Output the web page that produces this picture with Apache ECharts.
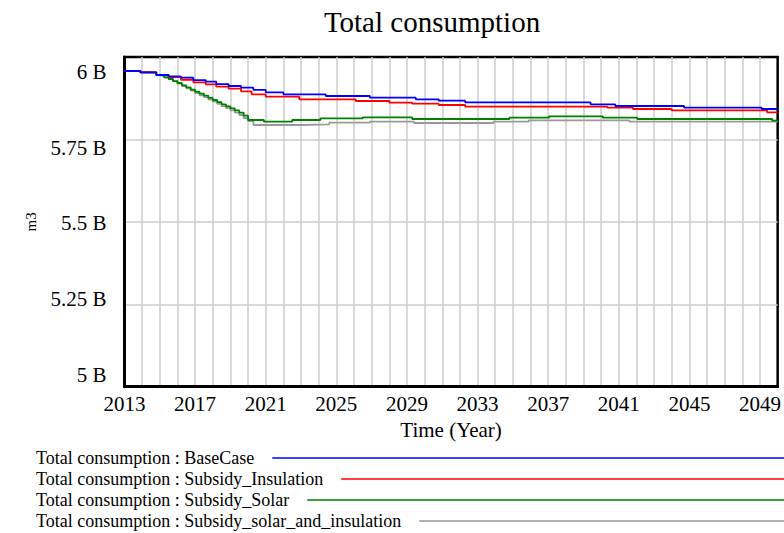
<!DOCTYPE html>
<html>
<head>
<meta charset="utf-8">
<script src="https://cdn.jsdelivr.net/npm/echarts@6/dist/echarts.min.js"></script>
<style>
html,body{margin:0;padding:0;background:#fff;}
#chart{width:784px;height:533px;}
</style>
</head>
<body>
<div id="chart"></div>
<script>
// ---- data (values in billions of m3) ----
const seriesNames = [
  'Total consumption : BaseCase',
  'Total consumption : Subsidy_Insulation',
  'Total consumption : Subsidy_Solar',
  'Total consumption : Subsidy_solar_and_insulation'
];
const seriesColors = ['#0000ff', '#ff0000', '#008000', '#999999'];

const baseYears = [2013, 2013.9, 2014.8, 2015.5, 2016.2, 2016.9, 2017.6, 2018.2, 2018.9, 2019.6, 2020.3, 2021, 2022, 2024.4, 2026.9, 2029.5, 2030.8, 2032.3, 2039.4, 2040.8, 2044.7, 2049.1, 2050];
const baseValues = [5.9575, 5.9535, 5.9454, 5.941, 5.9374, 5.930, 5.9252, 5.918, 5.912, 5.907, 5.900, 5.8929, 5.8868, 5.8817, 5.8767, 5.8716, 5.8675, 5.8625, 5.8564, 5.8514, 5.8463, 5.8423, 5.8423];

const insulYears = [2013, 2013.9, 2014.8, 2015.5, 2016.2, 2016.9, 2017.6, 2018.2, 2018.9, 2019.6, 2020.2, 2021.0, 2022.9, 2026.1, 2028, 2029.3, 2030.8, 2032.3, 2040.35, 2041.8, 2044, 2049.4, 2050];
const insulValues = [5.9575, 5.9535, 5.9454, 5.939, 5.931, 5.9232, 5.9171, 5.910, 5.904, 5.896, 5.8868, 5.8797, 5.8716, 5.8665, 5.8615, 5.8585, 5.8544, 5.8494, 5.8463, 5.8423, 5.8382, 5.8322, 5.8322];

const solarYears = [2013, 2013.9, 2014.8, 2015.0, 2015.25, 2015.5, 2015.75, 2016, 2016.25, 2016.5, 2016.75, 2017, 2017.25, 2017.5, 2017.75, 2018, 2018.25, 2018.5, 2018.75, 2019, 2019.25, 2019.5, 2019.75, 2020, 2020.9, 2022.5, 2024.1, 2026.5, 2029.3, 2034.8, 2037.05, 2040.1, 2042.05, 2049.7, 2050];
const solarValues = [5.9575, 5.9535, 5.9454, 5.9434, 5.938, 5.9333, 5.927, 5.9211, 5.914, 5.908, 5.901, 5.8949, 5.889, 5.8827, 5.876, 5.8696, 5.863, 5.8564, 5.850, 5.8443, 5.838, 5.8312, 5.822, 5.8089, 5.8039, 5.8089, 5.814, 5.817, 5.812, 5.816, 5.820, 5.816, 5.812, 5.807, 5.807];

const bothYears = [2013, 2013.9, 2014.8, 2015.0, 2015.25, 2015.5, 2015.75, 2016, 2016.25, 2016.5, 2016.75, 2017, 2017.25, 2017.5, 2017.75, 2018, 2018.25, 2018.5, 2018.75, 2019, 2019.25, 2019.5, 2019.75, 2020, 2020.3, 2023, 2024.6, 2026.9, 2029.4, 2033.9, 2035.9, 2041.6, 2050];
const bothValues = [5.9575, 5.9535, 5.9454, 5.9434, 5.938, 5.932, 5.926, 5.9191, 5.912, 5.905, 5.898, 5.8908, 5.884, 5.878, 5.871, 5.8645, 5.858, 5.851, 5.845, 5.8382, 5.831, 5.8241, 5.815, 5.8059, 5.7937, 5.7958, 5.8008, 5.8039, 5.7998, 5.8039, 5.808, 5.8039, 5.8039];

const xTickYears = [2013, 2017, 2021, 2025, 2029, 2033, 2037, 2041, 2045, 2049];
const yTickValues = [5, 5.25, 5.5, 5.75, 6];

const chartTitle = 'Total consumption';
const xName = 'Time (Year)';
const yName = 'm3';

// ---- build ----
const FONT = '"Liberation Serif", "Times New Roman", serif';
const years = [baseYears, insulYears, solarYears, bothYears];
const values = [baseValues, insulValues, solarValues, bothValues];

function zip(xs, ys) { return xs.map((x, i) => [x, ys[i] * 1e9]); }

const canvas = document.createElement('canvas');
const ctx = canvas.getContext('2d');
ctx.font = '18px "Liberation Serif"';

const legendTop = [449, 470, 491, 512];
const legendLeft = 36;
const legends = seriesNames.map((n, i) => {
  const tw = ctx.measureText(n).width;
  return {
    show: true,
    data: [n],
    left: legendLeft,
    top: legendTop[i],
    padding: 0,
    align: 'right',
    icon: 'rect',
    itemWidth: Math.round(784 - (legendLeft + tw + 18)),
    itemHeight: 1.6,
    selectedMode: false,
    textStyle: { fontFamily: FONT, fontSize: 18, color: '#000', lineHeight: 18, padding: [0, 13, 0, 0] }
  };
});

const chart = echarts.init(document.getElementById('chart'), null, { renderer: 'svg' });
chart.setOption({
  animation: false,
  backgroundColor: '#fff',
  title: {
    text: chartTitle,
    left: 432, top: 7, padding: 0,
    textAlign: 'center',
    textStyle: { fontFamily: FONT, fontSize: 29, fontWeight: 'normal', color: '#000' }
  },
  legend: legends,
  grid: {
    left: 124.5, right: 5, top: 57, bottom: 146.3,
    show: true, borderColor: '#000', borderWidth: 2.5, backgroundColor: 'transparent'
  },
  xAxis: {
    type: 'value', min: 2013, max: 2050, interval: 1,
    name: xName, nameLocation: 'middle', nameGap: 32,
    nameTextStyle: { fontFamily: FONT, fontSize: 21, color: '#000' },
    axisLine: { show: true, lineStyle: { color: '#000', width: 3 } },
    axisTick: { show: false },
    axisLabel: {
      fontFamily: FONT, fontSize: 21, color: '#000', margin: 7,
      formatter: v => xTickYears.indexOf(Math.round(v)) >= 0 ? String(Math.round(v)) : ''
    },
    splitLine: { show: true, showMinLine: false, showMaxLine: false, lineStyle: { color: '#cccccc', width: 1.5 } }
  },
  yAxis: [
    {
      type: 'value', min: 5e9, max: 6e9, interval: 0.25e9,
      axisLine: { show: true, lineStyle: { color: '#000', width: 3 } },
      axisTick: { show: false },
      axisLabel: { show: false },
      splitLine: { show: true, showMinLine: false, showMaxLine: false, lineStyle: { color: '#cccccc', width: 1.5 } },
      name: yName, nameLocation: 'middle', nameGap: 86, nameRotate: 90,
      nameTextStyle: { fontFamily: FONT, fontSize: 15, color: '#000' }
    },
    {
      type: 'value', position: 'left', min: 4.9614e9, max: 6.0485e9,
      axisLine: { show: false }, axisTick: { show: false }, splitLine: { show: false },
      axisLabel: {
        customValues: yTickValues.map(v => v * 1e9),
        fontFamily: FONT, fontSize: 21, color: '#000', margin: 18,
        formatter: v => (Math.round(v / 1e7) / 100) + ' B'
      }
    }
  ],
  series: seriesNames.map((n, i) => ({
    name: n,
    type: 'line',
    step: 'end',
    yAxisIndex: 0,
    showSymbol: false,
    symbol: 'none',
    color: seriesColors[i],
    lineStyle: { color: seriesColors[i], width: 1.8 },
    z: 10 - i,
    data: zip(years[i], values[i])
  }))
});
</script>
</body>
</html>
